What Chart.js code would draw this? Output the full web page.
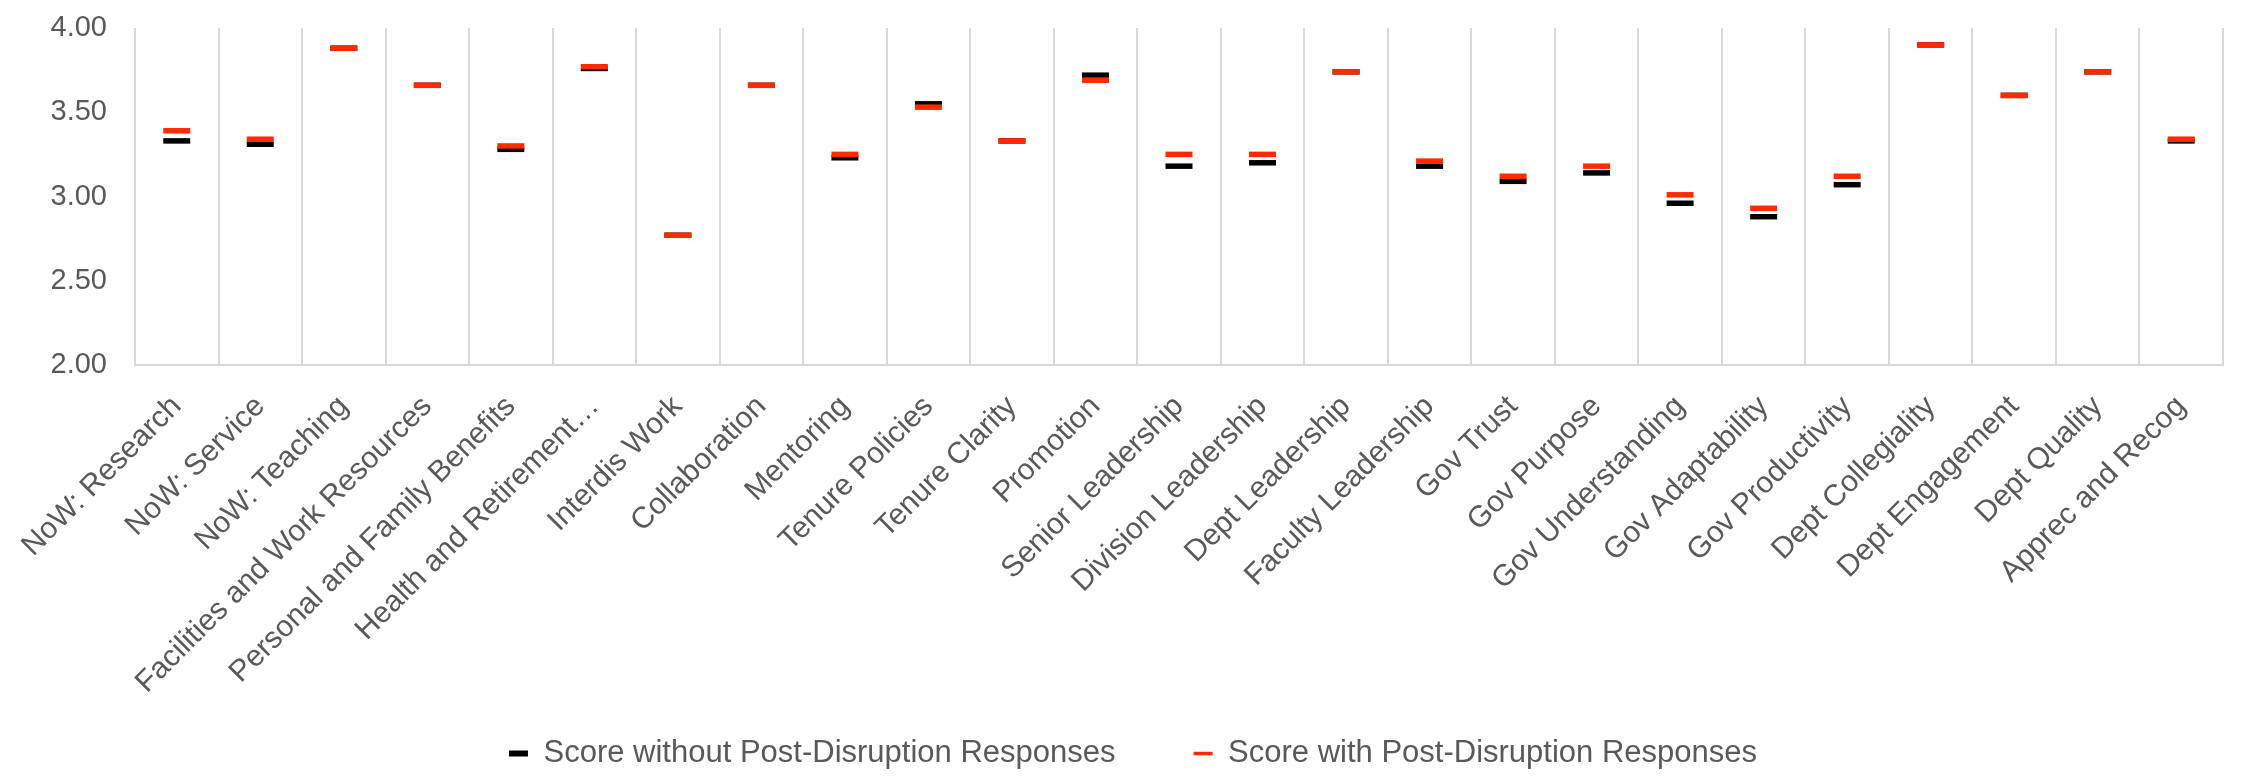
<!DOCTYPE html>
<html>
<head>
<meta charset="utf-8">
<script src="https://cdn.jsdelivr.net/npm/chart.js@4.4.1/dist/chart.umd.min.js"></script>
<style>
  body { margin: 0; background: #fff; }
  #wrap { width: 2242px; height: 779px; }
</style>
</head>
<body>
<div id="wrap"><canvas id="myChart"></canvas></div>
<script>
// chart data
var categories = ["NoW: Research", "NoW: Service", "NoW: Teaching", "Facilities and Work Resources",
  "Personal and Family Benefits", "Health and Retirement\u2026", "Interdis Work", "Collaboration",
  "Mentoring", "Tenure Policies", "Tenure Clarity", "Promotion", "Senior Leadership",
  "Division Leadership", "Dept Leadership", "Faculty Leadership", "Gov Trust", "Gov Purpose",
  "Gov Understanding", "Gov Adaptability", "Gov Productivity", "Dept Collegiality",
  "Dept Engagement", "Dept Quality", "Apprec and Recog"];
var scoreWithout = [3.33, 3.31, 3.88, 3.66, 3.28, 3.76, 2.77, 3.66, 3.23, 3.55, 3.33, 3.72, 3.18,
  3.20, 3.74, 3.18, 3.09, 3.14, 2.96, 2.88, 3.07, 3.90, 3.60, 3.74, 3.33];
var scoreWith = [3.39, 3.34, 3.88, 3.66, 3.30, 3.77, 2.77, 3.66, 3.25, 3.53, 3.33, 3.69, 3.25,
  3.25, 3.74, 3.21, 3.12, 3.18, 3.01, 2.93, 3.12, 3.90, 3.60, 3.74, 3.34];
var yTicks = [2.0, 2.5, 3.0, 3.5, 4.0];

var font = "'Liberation Sans', Arial, Helvetica, sans-serif";
var grey = "#595959";
var red = "#FF2A00";

const ctx = document.getElementById("myChart");
new Chart(ctx, {
  type: "line",
  data: {
    labels: categories,
    datasets: [
      {
        label: "Score without Post-Disruption Responses",
        data: scoreWithout,
        showLine: false,
        pointStyle: "line",
        pointRadius: 13.5,
        pointHoverRadius: 13.5,
        borderWidth: 5.5,
        pointBorderWidth: 5.5,
        borderColor: "#000000",
        backgroundColor: "#000000",
        order: 2,
      },
      {
        label: "Score with Post-Disruption Responses",
        data: scoreWith,
        showLine: false,
        pointStyle: "line",
        pointRadius: 13.5,
        pointHoverRadius: 13.5,
        borderWidth: 5.5,
        pointBorderWidth: 5.5,
        borderColor: red,
        backgroundColor: red,
        order: 1,
      },
    ],
  },
  options: {
    responsive: true,
    maintainAspectRatio: false,
    animation: false,
    layout: { padding: { top: 28, left: 35, right: 11, bottom: 0 } },
    plugins: {
      tooltip: { enabled: false },
      legend: {
        position: "bottom",
        labels: {
          usePointStyle: true,
          pointStyleWidth: 19,
          padding: 35,
          color: grey,
          font: { family: font, size: 31 },
          sort: (a, b) => a.datasetIndex - b.datasetIndex,
          generateLabels: function (chart) {
            var items = Chart.defaults.plugins.legend.labels.generateLabels(chart);
            items.forEach(function (it) {
              if (it.datasetIndex === 0) {
                it.lineWidth = 6;
                // wider gap before the second entry
                it.text = it.text + "\u00a0\u00a0\u00a0\u00a0\u00a0";
              } else {
                it.lineWidth = 3.5;
              }
            });
            return items;
          },
        },
      },
    },
    scales: {
      x: {
        offset: true,
        grid: { offset: true, color: "#d9d9d9", lineWidth: 2, drawTicks: false },
        border: { color: "#d9d9d9", width: 2 },
        ticks: {
          color: grey,
          font: { family: font, size: 30 },
          maxRotation: 45,
          minRotation: 45,
          autoSkip: false,
          padding: 24,
        },
        afterFit: function (scale) {
          scale.height = 338;
          scale.paddingLeft = 0;
          scale.paddingRight = 0;
        },
      },
      y: {
        min: 2,
        max: 4,
        grid: { display: false, drawTicks: false },
        border: { display: false },
        afterBuildTicks: function (scale) {
          scale.ticks = yTicks.map((v) => ({ value: v }));
        },
        afterFit: function (scale) {
          scale.width = 100;
          scale.paddingTop = 0;
          scale.paddingBottom = 0;
        },
        ticks: {
          color: grey,
          font: { family: font, size: 29 },
          padding: 28,
          callback: (v) => Number(v).toFixed(2),
        },
      },
    },
  },
});
</script>
</body>
</html>
